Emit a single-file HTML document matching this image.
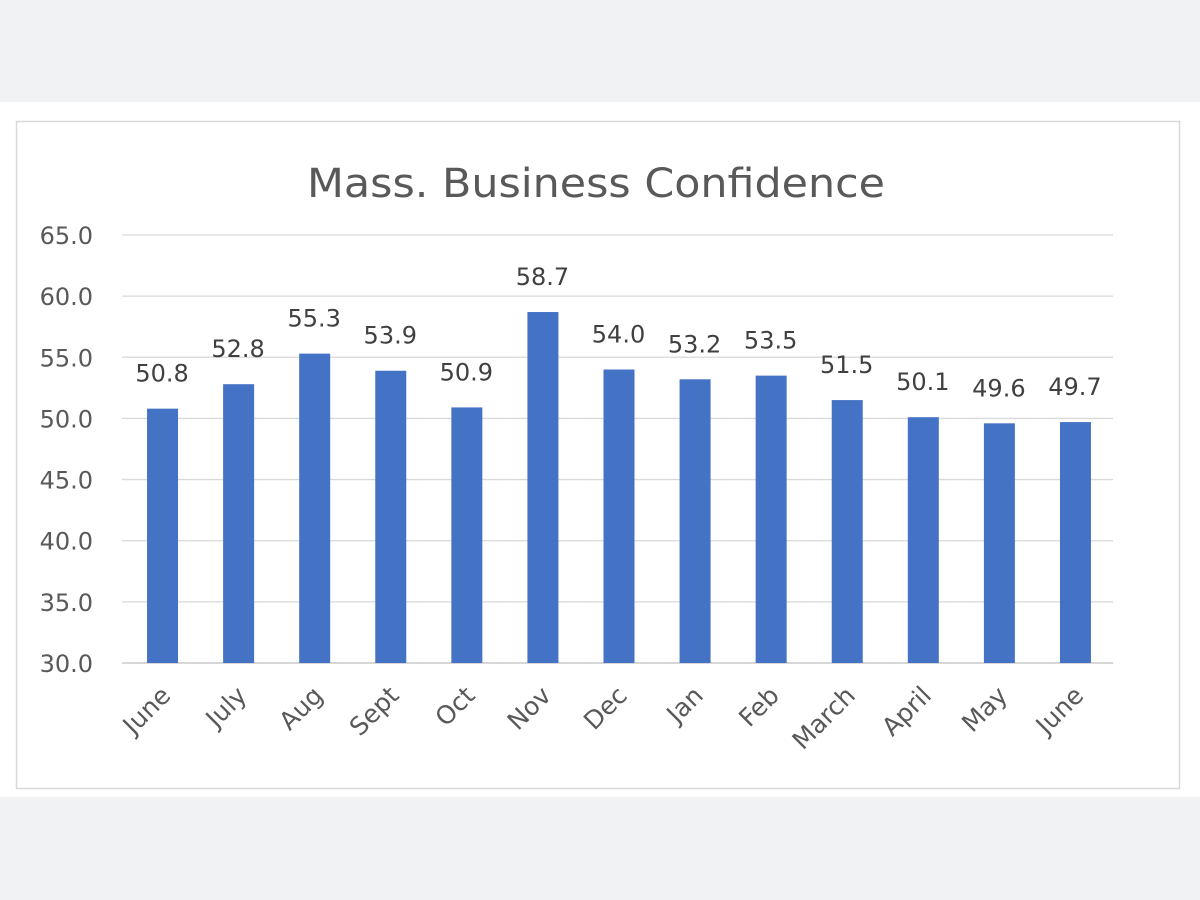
<!DOCTYPE html>
<html><head><meta charset="utf-8"><style>
body{margin:0;background:#f1f2f4;width:1200px;height:900px;overflow:hidden}
svg{display:block;font-family:"DejaVu Sans","Liberation Sans",sans-serif}
</style></head><body>
<svg width="1200" height="900">
<rect x="0" y="0" width="1200" height="900" fill="#f1f2f4"/>
<rect x="0" y="102" width="1200" height="695" fill="#ffffff"/>
<rect x="16.5" y="121.5" width="1163" height="667" fill="#fff" stroke="#d9d9d9" stroke-width="1.5"/>
<text x="596" y="197" font-size="40" fill="#595959" text-anchor="middle" textLength="578" lengthAdjust="spacingAndGlyphs">Mass. Business Confidence</text>
<g id="grid"></g><g id="bars"></g><g id="labels"></g>
</svg>
<script>
const categories=["June","July","Aug","Sept","Oct","Nov","Dec","Jan","Feb","March","April","May","June"];
const values=[50.8,52.8,55.3,53.9,50.9,58.7,54.0,53.2,53.5,51.5,50.1,49.6,49.7];
const ticks=[30,35,40,45,50,55,60,65];
const NS="http://www.w3.org/2000/svg";
const x0=124,x1=1113,yMin=30,yMax=65,py0=663,py1=235;
const y=v=>py0-(v-yMin)/(yMax-yMin)*(py0-py1);
const step=(x1-x0)/categories.length;
const cx=i=>x0+step*(i+0.5);
function mk(t,a,p){const e=document.createElementNS(NS,t);for(const k in a)e.setAttribute(k,a[k]);p.appendChild(e);return e;}
const grid=document.getElementById('grid'),bars=document.getElementById('bars'),labels=document.getElementById('labels');
ticks.forEach(t=>{
 const l=mk('line',{x1:122,x2:x1,y1:y(t),y2:y(t),stroke:t===30?'#bfbfbf':'#d9d9d9','stroke-width':1.3},grid);
 
 
 const tx=mk('text',{x:93,y:y(t)+9,'font-size':24,fill:'#595959','text-anchor':'end'},grid);
 tx.textContent=t.toFixed(1);
 
 
});
values.forEach((v,i)=>{
 const r=mk('rect',{x:cx(i)-15,y:y(v),width:31,height:y(30)-y(v),fill:'#4472c4'},bars);
 
 
 const t=mk('text',{x:cx(i),y:y(v)-27,'font-size':24,fill:'#404040','text-anchor':'middle'},labels);
 t.textContent=v.toFixed(1);
 
 
 const c=mk('text',{x:cx(i)+10,y:697,'font-size':25,fill:'#595959','text-anchor':'end',transform:`rotate(-45 ${cx(i)+10} 697)`},labels);
 c.textContent=categories[i];
 
 
});
</script>
</body></html>
